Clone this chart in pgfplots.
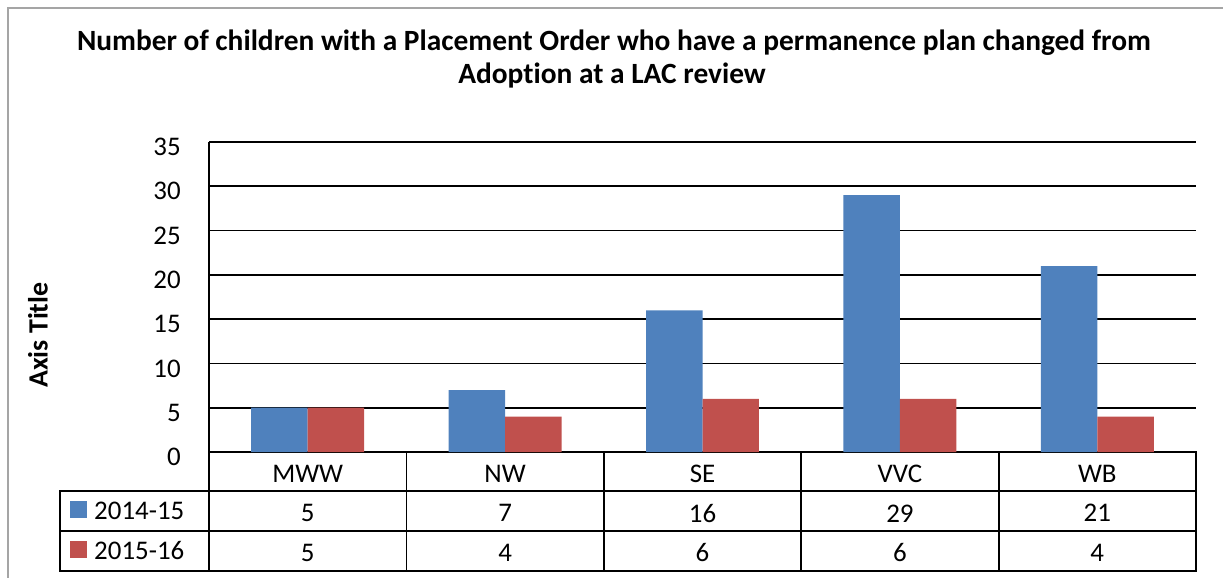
\documentclass[border=0pt]{standalone}
\usepackage{pgfplots}
\pgfplotsset{compat=1.18}
\usepackage{pgfplotstable}
\usepackage{fontspec}
\setmainfont{Carlito}[RawFeature={-liga;-clig;-dlig}]

\definecolor{sblue}{RGB}{79,129,189}
\definecolor{sred}{RGB}{192,80,77}
\definecolor{chartframe}{RGB}{165,165,165}

% one row per area: 2014-15 (a) and 2015-16 (b)
\pgfplotstableread{
x cat a b
0 MWW 5 5
1 NW 7 4
2 SE 16 6
3 VVC 29 6
4 WB 21 4
}\data

\newcommand{\cell}[1]{\pgfplotstablegetelem{\ticknum}{#1}\of\data\pgfplotsretval}

\begin{document}
\begin{tikzpicture}
\useasboundingbox (0,0) rectangle (1223bp,-578bp);
\draw[chartframe, line width=2bp] (8bp,-578bp) -- (8bp,-8bp) -- (1223bp,-8bp);

\node[anchor=base, font=\fontsize{29.5}{33}\selectfont\bfseries] at (614bp,-50.5bp)
  {Number of children with a Placement Order who have a permanence plan changed from};
\node[anchor=base, font=\fontsize{29.5}{33}\selectfont\bfseries] at (612bp,-83.3bp)
  {Adoption at a LAC review};

\begin{axis}[
    at={(209bp,-452bp)}, anchor=south west,
    scale only axis, width=987bp, height=310bp,
    ybar=0pt, bar width=0.286,
    xmin=-0.5, xmax=4.5, ymin=0, ymax=35,
    ytick={0,5,...,35},
    xtick=data,
    axis x line=bottom, axis y line=left,
    axis line style={-, line width=1.8bp},
    ymajorgrids, grid style={black, line width=1.8bp},
    tick style={draw=none},
    /pgf/number format/assume math mode=true,
    y tick label style={font=\fontsize{27}{30}\selectfont, anchor=east,
      inner sep=0pt, xshift=-26bp, yshift=-5bp},
    xticklabel={\cell{cat}\\\cell{a}\\\cell{b}},
    x tick label style={font=\fontsize{27}{40}\selectfont, align=center,
      anchor=north, inner sep=0pt, yshift=-10.5bp},
    ylabel={Axis Title},
    every axis y label/.style={at={(axis description cs:-0.1733,0.377)},
      rotate=90, anchor=center, font=\fontsize{28}{30}\selectfont\bfseries},
    legend image code/.code={\fill[#1] (0bp,-7bp) rectangle (17bp,10bp);},
    legend cell align=left,
    legend style={at={(axis description cs:-0.1408,-0.1258)}, anchor=north west,
      draw=none, fill=none, inner sep=0pt, row sep=0pt,
      font=\fontsize{27}{30}\selectfont,
      nodes={inner sep=0pt, minimum height=40bp},
      /tikz/every odd column/.append style={column sep=7bp}},
    clip=false,
  ]
  \addplot[fill=sblue, draw=none] table[x=x, y=a] {\data};
  \addlegendentry{2014-15}
  \addplot[fill=sred, draw=none] table[x=x, y=b] {\data};
  \addlegendentry{2015-16}
\end{axis}

% data table grid
\begin{scope}[line width=1.8bp, line cap=rect]
  \foreach \xx in {209,406.4,603.8,801.2,998.6,1196}
    \draw (\xx bp,-452bp) -- (\xx bp,-571bp);
  \foreach \yy in {491,531,571}
    \draw (60bp,-\yy bp) -- (1196bp,-\yy bp);
  \draw (60bp,-491bp) -- (60bp,-571bp);
\end{scope}
\end{tikzpicture}
\end{document}
